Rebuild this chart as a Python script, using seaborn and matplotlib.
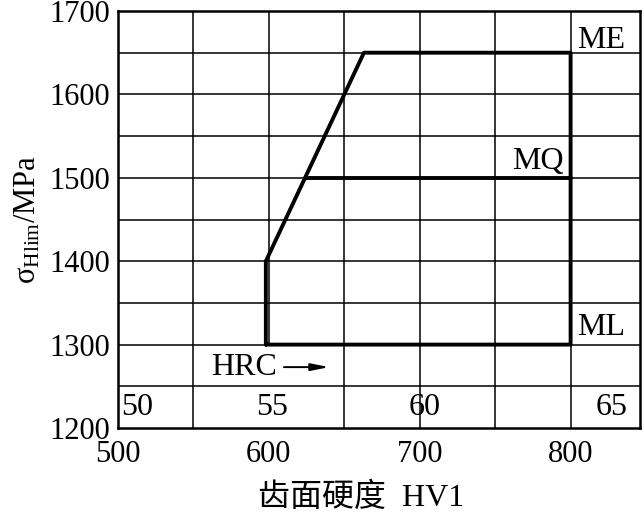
import matplotlib
matplotlib.use("Agg")
import matplotlib.pyplot as plt
import seaborn as sns
import pandas as pd

# ---- data ----
outline_hv = [598, 598, 663, 800, 800, 598]
outline_sigma = [1300, 1400, 1650, 1650, 1300, 1300]
mq_hv = [624, 800]
mq_sigma = [1500, 1500]
x_ticks = [500, 600, 700, 800]
y_ticks = [1200, 1300, 1400, 1500, 1600, 1700]
hrc_labels = ["50", "55", "60", "65"]
hrc_pos = [513, 602, 703, 827]
grid_x_full = [550, 650, 700, 750, 800]
grid_x_upper = [600]
grid_y = [1250, 1300, 1350, 1400, 1450, 1500, 1550, 1600, 1650]
level_names = ["ME", "MQ", "ML"]
level_hv = [820, 778, 820]
level_sigma = [1665, 1519, 1321]

sns.set_theme(style="white")
plt.rcParams["font.family"] = ["Liberation Serif", "Noto Sans CJK SC"]
plt.rcParams["mathtext.fontset"] = "custom"
plt.rcParams["mathtext.rm"] = "Liberation Serif"
plt.rcParams["mathtext.it"] = "Liberation Serif:italic"

fig = plt.figure(figsize=(6.42, 5.16), dpi=100)
ax = fig.add_axes([118 / 642, 1 - 428 / 516, 522 / 642, 417 / 516])

xmin, xmax, ymin, ymax = 500, 846, 1200, 1700
ax.set_xlim(xmin, xmax)
ax.set_ylim(ymin, ymax)

# grid
gl = dict(color="black", linewidth=1.1, zorder=1)
ax.vlines(grid_x_full, ymin, ymax, **gl)
ax.vlines(grid_x_upper, 1300, ymax, **gl)
ax.hlines(grid_y, xmin, xmax, **gl)

# curves
df_out = pd.DataFrame({"hv": outline_hv, "sigma": outline_sigma})
df_mq = pd.DataFrame({"hv": mq_hv, "sigma": mq_sigma})
sns.lineplot(data=df_out, x="hv", y="sigma", sort=False, estimator=None,
             color="black", linewidth=2.8, ax=ax, zorder=3)
sns.lineplot(data=df_mq, x="hv", y="sigma", sort=False, estimator=None,
             color="black", linewidth=2.8, ax=ax, zorder=3)

fs = 23
for name, hx, sy in zip(level_names, level_hv, level_sigma):
    ax.text(hx, sy, name, ha="center", va="center", fontsize=fs, color="black")

for lab, p in zip(hrc_labels, hrc_pos):
    ax.text(p, 1225, lab, ha="center", va="center", fontsize=fs, color="black")

ax.text(562, 1272, "HRC", ha="left", va="center", fontsize=fs, color="black")
ax.annotate("", xy=(640, 1273), xytext=(610, 1273),
            arrowprops=dict(arrowstyle="-|>,head_length=0.9,head_width=0.18",
                            color="black", lw=1.4, shrinkA=0, shrinkB=0))

ax.set_xticks(x_ticks)
ax.set_yticks(y_ticks)
ax.tick_params(axis="both", length=0, labelsize=22, colors="black")
ax.tick_params(axis="x", pad=9)
ax.tick_params(axis="y", pad=6)

for s in ax.spines.values():
    s.set_color("black")
    s.set_linewidth(1.8)
    s.set_zorder(4)

ax.set_xlabel("齿面硬度  HV1", fontsize=23, color="black")
ax.xaxis.set_label_coords(0.466, -0.13)
ax.set_ylabel(r"σ$_{\mathrm{Hlim}}$/MPa", fontsize=22, color="black")
ax.yaxis.set_label_coords(-0.145, 0.5)

fig.savefig("out.png", dpi=100)
